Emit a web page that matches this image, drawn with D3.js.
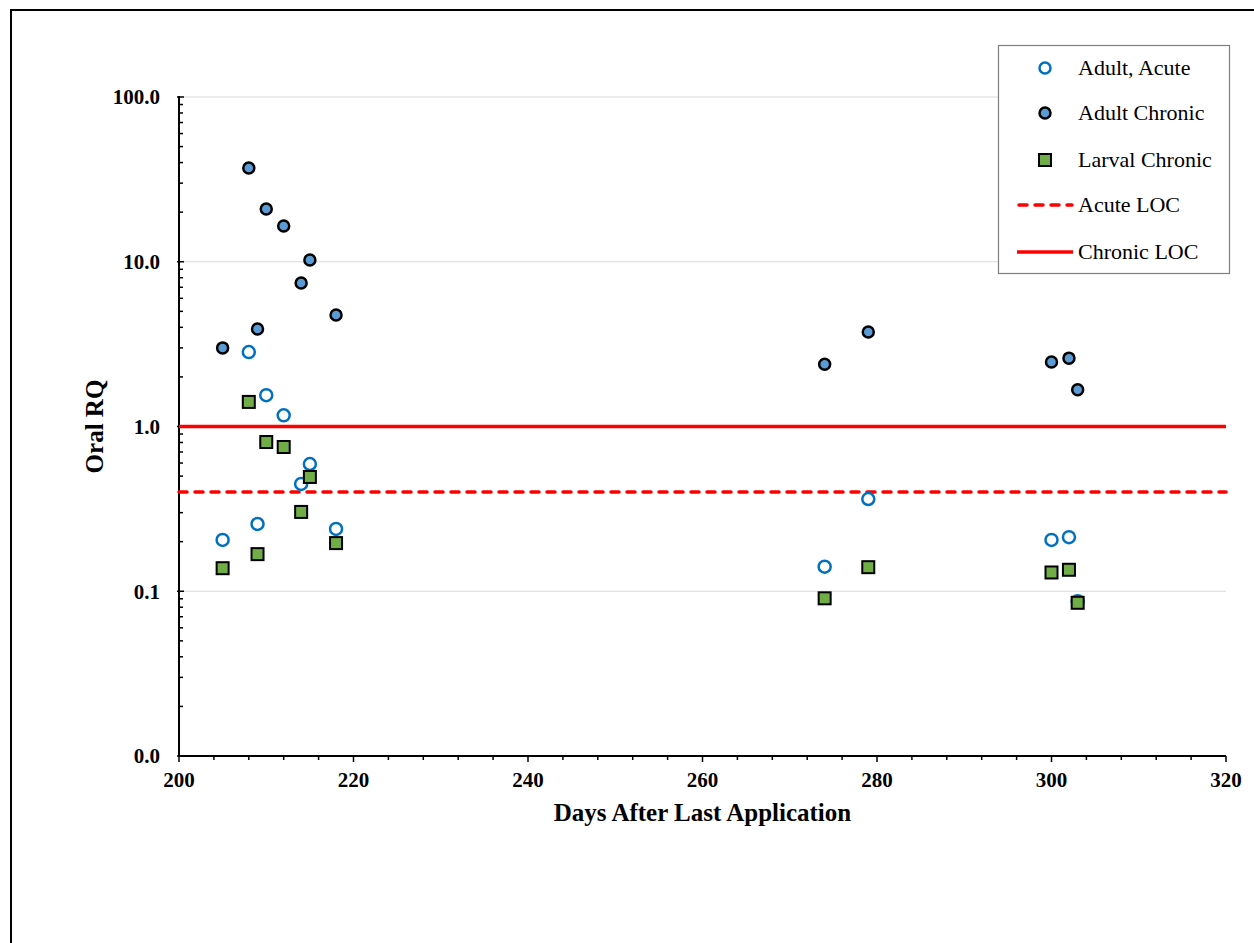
<!DOCTYPE html>
<html>
<head>
<meta charset="utf-8">
<script src="https://cdn.jsdelivr.net/npm/d3@7"></script>
<style>
  html, body { margin: 0; padding: 0; background: #fff; }
  svg { display: block; }
  text { font-family: "Liberation Serif", "Times New Roman", serif; }
</style>
</head>
<body>
<svg id="chart" width="1254" height="943"></svg>
<script>
// Oral risk quotients by days after last application
const adultAcuteDays  = [205, 208, 209, 210, 212, 214, 215, 218, 274, 279, 300, 302, 303];
const adultAcuteRQ    = [0.205, 2.83, 0.256, 1.55, 1.17, 0.448, 0.592, 0.239, 0.141, 0.363, 0.205, 0.213, 0.087];

const adultChronicDays = [205, 208, 209, 210, 212, 214, 215, 218, 274, 279, 300, 302, 303];
const adultChronicRQ   = [3.0, 37.1, 3.91, 20.9, 16.5, 7.43, 10.25, 4.75, 2.39, 3.75, 2.46, 2.6, 1.67];

const larvalChronicDays = [205, 208, 209, 210, 212, 214, 215, 218, 274, 279, 300, 302, 303];
const larvalChronicRQ   = [0.138, 1.41, 0.168, 0.805, 0.751, 0.303, 0.494, 0.196, 0.0906, 0.14, 0.130, 0.135, 0.0851];

// Levels of concern
const acuteLOC = 0.4;
const chronicLOC = 1.0;

const xTicks = [200, 220, 240, 260, 280, 300, 320];
const yTicks = [0.01, 0.1, 1, 10, 100];
const legendLabels = ["Adult, Acute", "Adult Chronic", "Larval Chronic", "Acute LOC", "Chronic LOC"];

const svg = d3.select("#chart");

// outer frame (open on right and bottom)
svg.append("path")
  .attr("d", "M11,943 L11,10 L1254,10")
  .attr("fill", "none").attr("stroke", "#000").attr("stroke-width", 2);

const plotLeft = 179, plotRight = 1226, plotTop = 97, plotBottom = 756;

const x = d3.scaleLinear().domain([200, 320]).range([plotLeft, plotRight]);
const y = d3.scaleLog().domain([0.01, 100]).range([plotBottom, plotTop]);

// horizontal gridlines at each decade
svg.append("g").selectAll("line")
  .data(yTicks.filter(d => d > 0.01))
  .join("line")
  .attr("x1", plotLeft).attr("x2", plotRight)
  .attr("y1", d => y(d)).attr("y2", d => y(d))
  .attr("stroke", "#d9d9d9").attr("stroke-width", 1);

// y axis minor ticks (log)
const minorY = [];
for (let e = -2; e < 2; e++) {
  for (let k = 2; k <= 9; k++) minorY.push(k * Math.pow(10, e));
}
const yAxisG = svg.append("g");
yAxisG.selectAll("line.minor")
  .data(minorY).join("line").attr("class", "minor")
  .attr("x1", plotLeft).attr("x2", plotLeft + 4)
  .attr("y1", d => y(d)).attr("y2", d => y(d))
  .attr("stroke", "#000").attr("stroke-width", 1.5);
yAxisG.selectAll("line.major")
  .data(yTicks).join("line").attr("class", "major")
  .attr("x1", plotLeft - 2).attr("x2", plotLeft + 5)
  .attr("y1", d => y(d)).attr("y2", d => y(d))
  .attr("stroke", "#000").attr("stroke-width", 1.5);
yAxisG.selectAll("text")
  .data(yTicks).join("text")
  .attr("x", plotLeft - 19).attr("y", d => y(d))
  .attr("dy", "0.35em")
  .attr("text-anchor", "end")
  .attr("font-size", 21).attr("font-weight", "bold")
  .text(d => d.toFixed(1));

// x axis
const xAxisG = svg.append("g").attr("transform", `translate(0,${plotBottom})`);
const minorX = d3.range(200, 321, 4);
xAxisG.selectAll("line")
  .data(minorX).join("line")
  .attr("x1", d => x(d)).attr("x2", d => x(d))
  .attr("y1", 0).attr("y2", d => (d % 20 === 0 ? 6 : 4))
  .attr("stroke", "#000").attr("stroke-width", 1.5);
xAxisG.selectAll("text")
  .data(xTicks).join("text")
  .attr("x", d => x(d)).attr("y", 31)
  .attr("text-anchor", "middle")
  .attr("font-size", 21).attr("font-weight", "bold")
  .text(d => d);

// axis lines
svg.append("line").attr("x1", plotLeft).attr("x2", plotLeft).attr("y1", plotTop - 1).attr("y2", plotBottom + 1)
  .attr("stroke", "#000").attr("stroke-width", 2);
svg.append("line").attr("x1", plotLeft - 1).attr("x2", plotRight).attr("y1", plotBottom).attr("y2", plotBottom)
  .attr("stroke", "#000").attr("stroke-width", 2);

// axis titles
svg.append("text")
  .attr("transform", `translate(103,${(plotTop + plotBottom) / 2}) rotate(-90)`)
  .attr("text-anchor", "middle")
  .attr("font-size", 25).attr("font-weight", "bold")
  .text("Oral RQ");
svg.append("text")
  .attr("x", (plotLeft + plotRight) / 2).attr("y", 821)
  .attr("text-anchor", "middle")
  .attr("font-size", 25).attr("font-weight", "bold")
  .text("Days After Last Application");

// LOC lines
svg.append("line")
  .attr("x1", x(200)).attr("x2", x(320))
  .attr("y1", y(acuteLOC)).attr("y2", y(acuteLOC))
  .attr("stroke", "#ff0000").attr("stroke-width", 3.5)
  .attr("stroke-dasharray", "8,8").attr("stroke-linecap", "round");
svg.append("line")
  .attr("x1", x(200)).attr("x2", x(320))
  .attr("y1", y(chronicLOC)).attr("y2", y(chronicLOC))
  .attr("stroke", "#ff0000").attr("stroke-width", 3.5);

// Adult chronic: filled blue circles with black outline
svg.append("g").selectAll("circle")
  .data(d3.zip(adultChronicDays, adultChronicRQ)).join("circle")
  .attr("cx", d => x(d[0])).attr("cy", d => y(d[1]))
  .attr("r", 5.5)
  .attr("fill", "#5b9bd5").attr("stroke", "#000").attr("stroke-width", 2.5);

// Adult acute: open blue circles
svg.append("g").selectAll("circle")
  .data(d3.zip(adultAcuteDays, adultAcuteRQ)).join("circle")
  .attr("cx", d => x(d[0])).attr("cy", d => y(d[1]))
  .attr("r", 6)
  .attr("fill", "none").attr("stroke", "#0070c0").attr("stroke-width", 2.5);

// Larval chronic: green squares
const sq = 12;
svg.append("g").selectAll("rect")
  .data(d3.zip(larvalChronicDays, larvalChronicRQ)).join("rect")
  .attr("x", d => x(d[0]) - sq / 2).attr("y", d => y(d[1]) - sq / 2)
  .attr("width", sq).attr("height", sq)
  .attr("fill", "#70ad47").attr("stroke", "#000").attr("stroke-width", 2);

// Legend
const lg = svg.append("g");
lg.append("rect")
  .attr("x", 998.5).attr("y", 45.5).attr("width", 231).attr("height", 228)
  .attr("fill", "#fff").attr("stroke", "#7f7f7f").attr("stroke-width", 1.2);
const rowY = [68, 113, 160, 205, 252];
const markX = 1045, textX = 1078;
lg.append("circle").attr("cx", markX).attr("cy", rowY[0]).attr("r", 5.5)
  .attr("fill", "none").attr("stroke", "#0070c0").attr("stroke-width", 2.5);
lg.append("circle").attr("cx", markX).attr("cy", rowY[1]).attr("r", 5.5)
  .attr("fill", "#5b9bd5").attr("stroke", "#000").attr("stroke-width", 2.5);
lg.append("rect").attr("x", markX - 6).attr("y", rowY[2] - 6).attr("width", 12).attr("height", 12)
  .attr("fill", "#70ad47").attr("stroke", "#000").attr("stroke-width", 2);
lg.append("line").attr("x1", 1019).attr("x2", 1072).attr("y1", rowY[3]).attr("y2", rowY[3])
  .attr("stroke", "#ff0000").attr("stroke-width", 3.5)
  .attr("stroke-dasharray", "8,8").attr("stroke-linecap", "round");
lg.append("line").attr("x1", 1017).attr("x2", 1073).attr("y1", rowY[4]).attr("y2", rowY[4])
  .attr("stroke", "#ff0000").attr("stroke-width", 3.5);
lg.selectAll("text").data(legendLabels).join("text")
  .attr("x", textX).attr("y", (d, i) => rowY[i])
  .attr("dy", "0.32em")
  .attr("font-size", 22)
  .text(d => d);
</script>
</body>
</html>
